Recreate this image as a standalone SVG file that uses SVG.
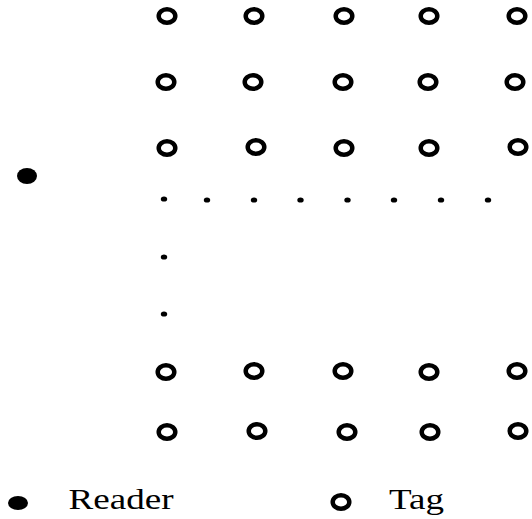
<svg xmlns="http://www.w3.org/2000/svg" width="532" height="519" viewBox="0 0 532 519">
<style>
.tag{fill:none;stroke:#000;stroke-width:4.5}
.reader{fill:#000}
.dot{fill:#000}
.lbl{font-family:"Liberation Serif","Times New Roman",serif;font-size:30px;fill:#000}
</style>
<defs>
<ellipse id="t" class="tag" cx="0" cy="0" rx="8.3" ry="6.8"/>
</defs>
<g id="reader">
<ellipse class="reader" cx="27" cy="176" rx="10" ry="8"/>
</g>
<g id="tags">
<g id="row1">
<use href="#t" x="167" y="16"/><use href="#t" x="254" y="16"/><use href="#t" x="344" y="16"/><use href="#t" x="429" y="16"/><use href="#t" x="517" y="16"/>
</g>
<g id="row2">
<use href="#t" x="166" y="82"/><use href="#t" x="253" y="82"/><use href="#t" x="343" y="82"/><use href="#t" x="428" y="82"/><use href="#t" x="515" y="82"/>
</g>
<g id="row3">
<use href="#t" x="167" y="148"/><use href="#t" x="256" y="147"/><use href="#t" x="344" y="148"/><use href="#t" x="429" y="148"/><use href="#t" x="518" y="147"/>
</g>
<g id="row4">
<use href="#t" x="166" y="372"/><use href="#t" x="254" y="371"/><use href="#t" x="343" y="371"/><use href="#t" x="429" y="372"/><use href="#t" x="517" y="371"/>
</g>
<g id="row5">
<use href="#t" x="167" y="432"/><use href="#t" x="257" y="431"/><use href="#t" x="347" y="432"/><use href="#t" x="430" y="432"/><use href="#t" x="518" y="431"/>
</g>
</g>
<g id="ellipsis">
<ellipse class="dot" cx="164" cy="199" rx="3.2" ry="2.6"/>
<ellipse class="dot" cx="207" cy="200" rx="3.2" ry="2.6"/>
<ellipse class="dot" cx="254" cy="200" rx="3.2" ry="2.6"/>
<ellipse class="dot" cx="300.5" cy="200" rx="3.2" ry="2.6"/>
<ellipse class="dot" cx="347.5" cy="200" rx="3.2" ry="2.6"/>
<ellipse class="dot" cx="394" cy="200" rx="3.2" ry="2.6"/>
<ellipse class="dot" cx="441" cy="200" rx="3.2" ry="2.6"/>
<ellipse class="dot" cx="488" cy="200" rx="3.2" ry="2.6"/>
<ellipse class="dot" cx="164" cy="257" rx="3.2" ry="2.6"/>
<ellipse class="dot" cx="164" cy="314" rx="3.2" ry="2.6"/>
</g>
<g id="legend">
<ellipse class="reader" cx="18" cy="503" rx="10" ry="7"/>
<text class="lbl" x="68.5" y="509" textLength="105" lengthAdjust="spacingAndGlyphs">Reader</text>
<use href="#t" x="341" y="502"/>
<text class="lbl" x="389" y="509" textLength="55" lengthAdjust="spacingAndGlyphs">Tag</text>
</g>
</svg>
